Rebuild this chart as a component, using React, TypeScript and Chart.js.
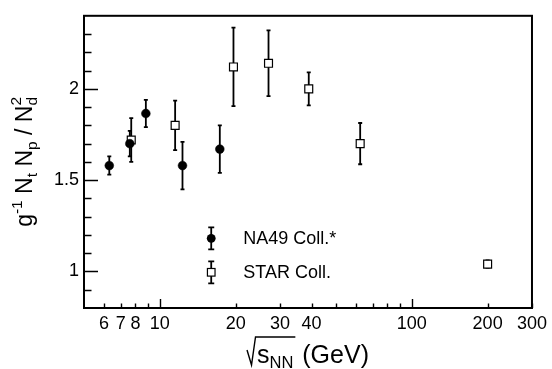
import React, { useEffect, useRef } from 'react';
import { Chart, registerables } from 'chart.js';

Chart.register(...registerables);

const FONT = '"Liberation Sans", Arial, Helvetica, sans-serif';

// NA49 Coll.* (filled circles)
const na49Label = 'NA49 Coll.*';
const na49Energy = [6.3, 7.6, 8.8, 12.3, 17.3];
const na49Ratio = [1.58, 1.70, 1.865, 1.58, 1.67];
const na49Error = [0.05, 0.07, 0.075, 0.13, 0.13];

// STAR Coll. (open squares)
const starLabel = 'STAR Coll.';
const starEnergy = [7.7, 11.5, 19.6, 27, 39, 62.4, 200];
const starRatio = [1.72, 1.80, 2.12, 2.14, 2.00, 1.70, 1.04];
const starError = [0.12, 0.135, 0.215, 0.18, 0.09, 0.113, 0.02];

// Axes
const xMin = 5;
const xMax = 300;
const xTickValues = [6, 7, 8, 9, 10, 20, 30, 40, 50, 60, 70, 80, 90, 100, 200, 300];
const xTickLabels = ['6', '7', '8', '', '10', '20', '30', '40', '', '', '', '', '', '100', '200', '300'];
const xMajorTicks = [10, 100];

const yMin = 0.8;
const yMax = 2.4;
const yTickValues = [0.9, 1.0, 1.1, 1.2, 1.3, 1.4, 1.5, 1.6, 1.7, 1.8, 1.9, 2.0, 2.1, 2.2, 2.3];
const yTickLabels = ['', '1', '', '', '', '', '1.5', '', '', '', '', '2', '', '', ''];
const yMajorTicks = [1.0, 1.5, 2.0];

const isIn = (v: number, arr: number[]) => arr.some((a) => Math.abs(a - v) < 1e-9);

const errorBarPlugin = {
  id: 'errorBars',
  beforeDatasetsDraw(chart: any) {
    const ctx = chart.ctx;
    const xs = chart.scales.x;
    const ys = chart.scales.y;
    ctx.save();
    ctx.strokeStyle = '#000';
    ctx.lineWidth = 1.8;
    chart.data.datasets.forEach((ds: any) => {
      const errs: number[] = ds.errors || [];
      ds.data.forEach((p: any, i: number) => {
        const e = errs[i] || 0;
        const px = xs.getPixelForValue(p.x);
        const top = ys.getPixelForValue(p.y + e);
        const bot = ys.getPixelForValue(p.y - e);
        ctx.beginPath();
        ctx.moveTo(px, top);
        ctx.lineTo(px, bot);
        ctx.moveTo(px - 2, top);
        ctx.lineTo(px + 2, top);
        ctx.moveTo(px - 2, bot);
        ctx.lineTo(px + 2, bot);
        ctx.stroke();
      });
    });
    ctx.restore();
  },
};

const framePlugin = {
  id: 'frameTicks',
  afterDatasetsDraw(chart: any) {
    const ctx = chart.ctx;
    const { left, right, top, bottom } = chart.chartArea;
    const xs = chart.scales.x;
    const ys = chart.scales.y;
    ctx.save();
    ctx.strokeStyle = '#000';
    ctx.lineWidth = 1.4;
    ctx.beginPath();
    yTickValues.forEach((v) => {
      const py = Math.round(ys.getPixelForValue(v)) + 0.5;
      const len = isIn(v, yMajorTicks) ? 14 : 7.5;
      ctx.moveTo(left, py);
      ctx.lineTo(left + len, py);
    });
    xTickValues.forEach((v) => {
      const px = Math.round(xs.getPixelForValue(v)) + 0.5;
      const len = isIn(v, xMajorTicks) ? 9 : 4.5;
      ctx.moveTo(px, bottom);
      ctx.lineTo(px, bottom - len);
    });
    ctx.stroke();
    ctx.lineWidth = 2;
    ctx.strokeRect(left, top, right - left, bottom - top);
    ctx.restore();
  },
};

const legendPlugin = {
  id: 'customLegend',
  afterDraw(chart: any) {
    const ctx = chart.ctx;
    const xs = chart.scales.x;
    const ys = chart.scales.y;
    const mx = xs.left + (xs.right - xs.left) * 0.284;
    const rowY = [ys.top + (ys.bottom - ys.top) * 0.7615, ys.top + (ys.bottom - ys.top) * 0.8778];
    ctx.save();
    chart.data.datasets.forEach((ds: any, i: number) => {
      const y = rowY[i];
      ctx.strokeStyle = '#000';
      ctx.lineWidth = 1.8;
      ctx.beginPath();
      ctx.moveTo(mx, y - 11);
      ctx.lineTo(mx, y + 11);
      ctx.moveTo(mx - 3, y - 11);
      ctx.lineTo(mx + 3, y - 11);
      ctx.moveTo(mx - 3, y + 11);
      ctx.lineTo(mx + 3, y + 11);
      ctx.stroke();
      if (ds.pointStyle === 'rect') {
        ctx.fillStyle = '#fff';
        ctx.lineWidth = 1.2;
        ctx.fillRect(mx - 3.8, y - 3.8, 7.6, 7.6);
        ctx.strokeRect(mx - 3.8, y - 3.8, 7.6, 7.6);
      } else {
        ctx.fillStyle = '#000';
        ctx.beginPath();
        ctx.arc(mx, y, 4.4, 0, Math.PI * 2);
        ctx.fill();
      }
      ctx.fillStyle = '#000';
      ctx.font = `18px ${FONT}`;
      ctx.textAlign = 'left';
      ctx.textBaseline = 'middle';
      ctx.fillText(ds.label, mx + 32, y + 1);
    });
    ctx.restore();
  },
};

type Seg = { text: string; size: number; dy: number; stackWithPrev?: boolean };

function drawSegments(ctx: CanvasRenderingContext2D, segs: Seg[], x0: number, baseline: number) {
  let x = x0;
  let prevStart = x0;
  let prevW = 0;
  segs.forEach((s) => {
    ctx.font = `${s.size}px ${FONT}`;
    const w = ctx.measureText(s.text).width;
    if (s.stackWithPrev) {
      ctx.fillText(s.text, prevStart, baseline + s.dy);
      x = prevStart + Math.max(prevW, w);
    } else {
      ctx.fillText(s.text, x, baseline + s.dy);
      prevStart = x;
      prevW = w;
      x += w;
    }
  });
  return x;
}

function measureSegments(ctx: CanvasRenderingContext2D, segs: Seg[]) {
  let total = 0;
  let prevW = 0;
  segs.forEach((s) => {
    ctx.font = `${s.size}px ${FONT}`;
    const w = ctx.measureText(s.text).width;
    if (s.stackWithPrev) {
      total += Math.max(0, w - prevW);
    } else {
      total += w;
      prevW = w;
    }
  });
  return total;
}

const titlesPlugin = {
  id: 'axisTitles',
  afterDraw(chart: any) {
    const ctx = chart.ctx;
    const { left, right, top, bottom } = chart.chartArea;
    ctx.save();
    ctx.fillStyle = '#000';
    ctx.strokeStyle = '#000';
    ctx.textAlign = 'left';
    ctx.textBaseline = 'alphabetic';

    // Y title: g^{-1} N_t N_p / N_d^2
    const ySegs: Seg[] = [
      { text: 'g', size: 23, dy: 0 },
      { text: '-1', size: 15.5, dy: -10 },
      { text: ' N', size: 23, dy: 0 },
      { text: 't', size: 15.5, dy: 5 },
      { text: ' N', size: 23, dy: 0 },
      { text: 'p', size: 15.5, dy: 5 },
      { text: ' / N', size: 23, dy: 0 },
      { text: 'd', size: 15.5, dy: 5 },
      { text: '2', size: 15.5, dy: -11, stackWithPrev: true },
    ];
    const yw = measureSegments(ctx, ySegs);
    ctx.save();
    ctx.translate(32, (top + bottom) / 2);
    ctx.rotate(-Math.PI / 2);
    drawSegments(ctx, ySegs, -yw / 2, 0);
    ctx.restore();

    // X title: sqrt(s_NN) (GeV)
    const base = 363;
    const radW = 10;
    const sqSegs: Seg[] = [
      { text: 's', size: 25, dy: 0 },
      { text: 'NN', size: 16.5, dy: 5 },
    ];
    const restSegs: Seg[] = [{ text: ' (GeV)', size: 25, dy: 0 }];
    const sqW = measureSegments(ctx, sqSegs);
    const restW = measureSegments(ctx, restSegs);
    const total = radW + sqW + 2 + restW;
    const x0 = (left + right) / 2 - total / 2;
    ctx.lineWidth = 1.4;
    ctx.beginPath();
    ctx.moveTo(x0, base - 13);
    ctx.lineTo(x0 + 4.5, base + 2);
    ctx.lineTo(x0 + 8.5, base - 26);
    ctx.lineTo(x0 + radW + sqW + 2, base - 26);
    ctx.stroke();
    drawSegments(ctx, sqSegs, x0 + radW, base);
    drawSegments(ctx, restSegs, x0 + radW + sqW + 2, base);
    ctx.restore();
  },
};

export default function App() {
  const ref = useRef<HTMLCanvasElement>(null);

  useEffect(() => {
    const canvas = ref.current;
    if (!canvas) return;
    Chart.defaults.font.family = FONT;
    Chart.defaults.color = '#000';

    const chart = new Chart(canvas, {
      type: 'scatter',
      data: {
        datasets: [
          {
            label: na49Label,
            data: na49Energy.map((x, i) => ({ x, y: na49Ratio[i] })),
            errors: na49Error,
            pointStyle: 'circle',
            pointRadius: 4.4,
            pointBackgroundColor: '#000',
            pointBorderColor: '#000',
            pointBorderWidth: 0.5,
            showLine: false,
          } as any,
          {
            label: starLabel,
            data: starEnergy.map((x, i) => ({ x, y: starRatio[i] })),
            errors: starError,
            pointStyle: 'rect',
            pointRadius: 5.6,
            pointBackgroundColor: '#fff',
            pointBorderColor: '#000',
            pointBorderWidth: 1.2,
            showLine: false,
          } as any,
        ],
      },
      options: {
        responsive: false,
        animation: false,
        devicePixelRatio: 1,
        layout: { padding: { top: 7, right: 19, left: 0, bottom: 0 } },
        plugins: {
          legend: { display: false },
          tooltip: { enabled: false },
        },
        events: [],
        scales: {
          x: {
            type: 'logarithmic',
            min: xMin,
            max: xMax,
            grid: { display: false, drawTicks: false },
            border: { display: false },
            afterBuildTicks: (scale: any) => {
              scale.ticks = xTickValues.map((v) => ({ value: v }));
            },
            afterFit: (scale: any) => {
              scale.height = 61;
            },
            ticks: {
              autoSkip: false,
              maxRotation: 0,
              minRotation: 0,
              padding: 5,
              font: { size: 18, family: FONT },
              color: '#000',
              callback: (_v: any, i: number) => xTickLabels[i],
            },
          },
          y: {
            type: 'linear',
            min: yMin,
            max: yMax,
            grid: { display: false, drawTicks: false },
            border: { display: false },
            afterBuildTicks: (scale: any) => {
              scale.ticks = yTickValues.map((v) => ({ value: v }));
            },
            afterFit: (scale: any) => {
              scale.width = 84;
            },
            ticks: {
              autoSkip: false,
              padding: 5,
              font: { size: 18, family: FONT },
              color: '#000',
              callback: (_v: any, i: number) => yTickLabels[i],
            },
          },
        },
      } as any,
      plugins: [errorBarPlugin, framePlugin, legendPlugin, titlesPlugin],
    });

    return () => chart.destroy();
  }, []);

  return (
    <canvas
      ref={ref}
      width={552}
      height={369}
      style={{ position: 'absolute', left: 0, top: 0, width: 552, height: 369, display: 'block' }}
    />
  );
}
